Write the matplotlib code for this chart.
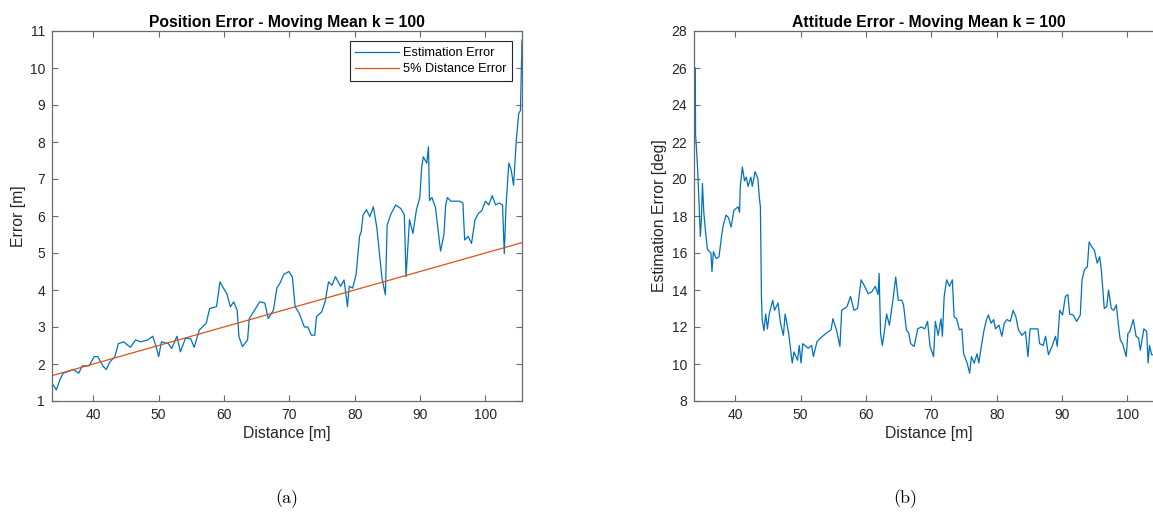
import matplotlib.pyplot as plt

# position error (moving mean, k = 100)
pos_dist = [33.7, 34.36, 34.89, 35.41, 36.2, 37.0, 37.79, 38.31, 39.37, 40.16, 40.69, 41.48, 42.0, 42.53, 43.32,
            43.85, 44.64, 45.69, 46.48, 47.27, 48.33, 49.12, 49.65, 50.02, 50.44, 51.49, 52.02, 52.81, 53.34, 54.13,
            54.92, 55.45, 56.24, 57.29, 57.82, 58.87, 59.4, 59.93, 60.45, 60.98, 61.51, 62.03, 62.3, 62.83, 63.62,
            63.88, 64.67, 65.46, 66.25, 66.78, 67.57, 68.1, 68.62, 69.15, 69.94, 70.47, 70.89, 71.52, 72.31, 72.84,
            73.37, 73.9, 74.16, 74.95, 75.48, 76.0, 76.53, 77.06, 77.85, 78.38, 78.9, 79.17, 79.69, 80.22, 80.75,
            81.01, 81.28, 81.8, 82.33, 82.86, 83.38, 83.91, 84.18, 84.7, 84.97, 85.49, 86.28, 87.07, 87.6, 87.86,
            88.39, 88.92, 89.45, 89.97, 90.24, 90.5, 91.03, 91.29, 91.45, 91.82, 92.35, 93.14, 93.66, 93.93, 94.19,
            94.72, 95.25, 96.04, 96.56, 96.83, 97.36, 97.88, 98.41, 98.94, 99.46, 100.0, 100.52, 101.04, 101.57, 102.1,
            102.62, 102.89, 103.15, 103.58, 103.94, 104.31, 104.73, 105.1, 105.36, 105.6]
pos_err = [1.48, 1.3, 1.57, 1.75, 1.8, 1.85, 1.75, 1.95, 1.95, 2.2, 2.2, 1.95, 1.85, 2.05, 2.2,
           2.55, 2.6, 2.45, 2.65, 2.6, 2.65, 2.75, 2.45, 2.2, 2.6, 2.55, 2.42, 2.75, 2.33, 2.7,
           2.68, 2.45, 2.92, 3.1, 3.5, 3.55, 4.22, 4.05, 3.9, 3.55, 3.68, 3.45, 2.74, 2.47, 2.65,
           3.23, 3.45, 3.68, 3.65, 3.23, 3.45, 4.05, 4.2, 4.42, 4.5, 4.35, 3.55, 3.37, 3.0, 3.0,
           2.78, 2.78, 3.28, 3.41, 3.68, 4.22, 4.13, 4.36, 4.1, 4.27, 3.55, 4.1, 4.05, 4.42, 5.45,
           5.58, 6.03, 6.17, 5.98, 6.25, 5.7, 4.8, 4.32, 3.87, 5.75, 6.03, 6.3, 6.2, 6.03, 4.36,
           5.9, 5.53, 6.17, 6.5, 7.3, 7.6, 7.43, 7.87, 6.42, 6.5, 6.24, 5.05, 5.5, 6.3, 6.5,
           6.4, 6.4, 6.4, 6.35, 5.35, 5.45, 5.26, 5.9, 6.07, 6.15, 6.4, 6.3, 6.55, 6.3, 6.35,
           6.3, 4.98, 6.24, 7.43, 7.25, 6.83, 8.05, 8.77, 8.85, 10.75]
ref_frac = 0.05  # 5% of distance travelled
pos_xlim = (33.7, 105.6)

# attitude error (moving mean, k = 100)
att_dist = [33.88, 33.92, 34.05, 34.27, 34.48, 34.65, 34.81, 34.97, 35.19, 35.46, 35.73, 36.27, 36.43, 36.65,
            37.08, 37.51, 37.89, 38.16, 38.59, 38.97, 39.35, 39.78, 40.43, 40.65, 40.76, 41.08, 41.41, 41.68,
            41.95, 42.38, 42.6, 43.03, 43.46, 43.68, 43.84, 44.0, 44.11, 44.38, 44.65, 44.92, 45.19, 45.73,
            46.0, 46.54, 46.92, 47.36, 47.63, 48.17, 48.71, 48.98, 49.52, 49.79, 50.06, 50.33, 51.14, 51.68,
            51.95, 52.49, 53.03, 53.85, 54.66, 54.93, 55.47, 56.01, 56.28, 57.09, 57.63, 58.17, 58.71, 59.25,
            59.79, 60.34, 60.88, 61.42, 61.85, 62.01, 62.23, 62.5, 62.77, 63.15, 63.58, 64.12, 64.55, 64.93,
            65.47, 65.74, 66.18, 66.55, 66.83, 67.37, 67.91, 68.45, 68.99, 69.42, 69.8, 70.34, 70.61, 71.04,
            71.48, 71.69, 71.96, 72.34, 72.77, 73.21, 73.48, 73.86, 74.29, 74.67, 74.94, 75.48, 75.86, 76.13,
            76.56, 76.99, 77.26, 77.64, 78.07, 78.45, 78.72, 79.15, 79.53, 79.81, 80.35, 80.78, 81.16, 81.54,
            82.08, 82.51, 82.94, 83.32, 83.86, 84.4, 84.78, 85.11, 85.65, 86.3, 86.57, 87.11, 87.48, 87.92,
            88.46, 89.0, 89.27, 89.65, 90.08, 90.51, 90.89, 91.16, 91.7, 92.24, 92.79, 93.06, 93.43, 93.87,
            94.14, 94.52, 94.95, 95.38, 95.76, 96.03, 96.46, 96.84, 97.11, 97.54, 97.92, 98.3, 98.63, 98.9,
            99.27, 99.81, 100.08, 100.36, 100.9, 101.33, 101.71, 101.98, 102.52, 102.95, 103.17, 103.38, 103.71,
            104.03, 104.6]
att_err = [26.0, 22.4, 21.7, 20.3, 18.4, 16.9, 17.8, 19.75, 18.15, 17.1, 16.2, 16.0, 15.0, 16.07,
           15.7, 15.8, 16.9, 17.5, 18.05, 17.9, 17.4, 18.3, 18.5, 18.2, 19.6, 20.65, 19.9, 20.1,
           19.6, 20.1, 19.6, 20.4, 20.0, 19.0, 18.5, 13.65, 12.4, 11.8, 12.7, 11.9, 12.7, 13.45,
           12.9, 13.3, 12.2, 11.55, 12.7, 11.65, 10.05, 10.65, 10.2, 11.0, 10.05, 11.1, 10.85, 11.0,
           10.4, 11.2, 11.4, 11.65, 11.85, 12.45, 11.85, 10.95, 12.9, 13.1, 13.65, 12.9, 13.0, 14.55,
           14.2, 13.8, 13.9, 14.2, 13.75, 14.9, 11.65, 11.0, 11.65, 12.7, 12.1, 13.45, 14.7, 13.45,
           13.45, 13.2, 11.85, 11.65, 11.1, 10.95, 11.9, 12.0, 11.9, 12.3, 10.95, 10.4, 12.3, 11.55,
           12.45, 11.5, 13.65, 14.55, 14.2, 14.55, 12.55, 12.45, 11.85, 11.9, 10.55, 10.05, 9.5, 10.4,
           10.05, 10.55, 10.05, 10.95, 11.85, 12.4, 12.65, 12.2, 12.4, 11.9, 12.1, 11.5, 12.2, 12.4,
           12.3, 12.9, 12.55, 11.85, 11.55, 11.75, 10.4, 11.9, 11.9, 11.9, 11.1, 11.0, 11.5, 10.5,
           10.95, 11.5, 10.95, 12.9, 12.65, 13.65, 13.75, 12.7, 12.65, 12.3, 12.65, 14.55, 15.1, 15.25,
           16.6, 16.35, 16.15, 15.45, 15.8, 15.0, 13.0, 13.1, 14.0, 13.0, 12.9, 13.2, 12.1, 11.3,
           11.1, 10.4, 11.65, 11.75, 12.4, 11.5, 11.4, 10.75, 11.9, 11.75, 10.05, 11.0, 10.5,
           10.5, 10.5]
att_xlim = (33.68, 105.6)

BLUE = "#0072BD"
ORANGE = "#D95319"
AX_GRAY = "#6a6a6a"
TXT = "#262626"

plt.rcParams["font.family"] = ["Liberation Sans", "DejaVu Sans"]


def _style(ax, xlim, ylim, yticks):
    ax.set_xlim(*xlim)
    ax.set_ylim(*ylim)
    ax.set_xticks([40, 50, 60, 70, 80, 90, 100])
    ax.set_yticks(yticks)
    ax.tick_params(direction="in", top=True, right=True, length=4.5, width=0.8,
                   color=AX_GRAY, labelcolor=TXT, labelsize=10, pad=5)
    for spine in ax.spines.values():
        spine.set_color(AX_GRAY)
        spine.set_linewidth(0.9)


fig = plt.figure(figsize=(11.53, 5.13), dpi=100)
W, H = 1153, 513

ax1 = fig.add_axes([52 / W, (H - 401) / H, 470 / W, 370 / H])
ax1.plot(pos_dist, pos_err, color=BLUE, lw=0.9, label="Estimation Error")
ax1.plot(pos_xlim, [ref_frac * d for d in pos_xlim], color=ORANGE, lw=0.9, label="5% Distance Error")
_style(ax1, pos_xlim, (1, 11), range(1, 12))
ax1.set_title("Position Error - Moving Mean k = 100", fontsize=11.3, fontweight="bold", color="black", pad=3)
ax1.set_xlabel("Distance [m]", fontsize=11.3, color=TXT, labelpad=3)
ax1.set_ylabel("Error [m]", fontsize=11.3, color=TXT, labelpad=3)
leg = ax1.legend(loc="upper right", fontsize=9.2, handlelength=3.4, fancybox=False, framealpha=1,
                 borderaxespad=0.8, borderpad=0.45, labelspacing=0.35, handletextpad=0.3)
leg.get_frame().set_edgecolor("#262626")
leg.get_frame().set_linewidth(0.8)

ax2 = fig.add_axes([694 / W, (H - 401) / H, 470 / W, 370 / H])
ax2.plot(att_dist, att_err, color=BLUE, lw=0.9)
_style(ax2, att_xlim, (8, 28), range(8, 29, 2))
ax2.set_title("Attitude Error - Moving Mean k = 100", fontsize=11.3, fontweight="bold", color="black", pad=3)
ax2.set_xlabel("Distance [m]", fontsize=11.3, color=TXT, labelpad=3)
ax2.set_ylabel("Estimation Error [deg]", fontsize=11.3, color=TXT, labelpad=3)

fig.text(287 / W, 1 - 499 / H, "(a)", ha="center", va="center", fontsize=13, family="cmr10")
fig.text(905 / W, 1 - 499 / H, "(b)", ha="center", va="center", fontsize=13, family="cmr10")

fig.savefig("out.png", dpi=100)
